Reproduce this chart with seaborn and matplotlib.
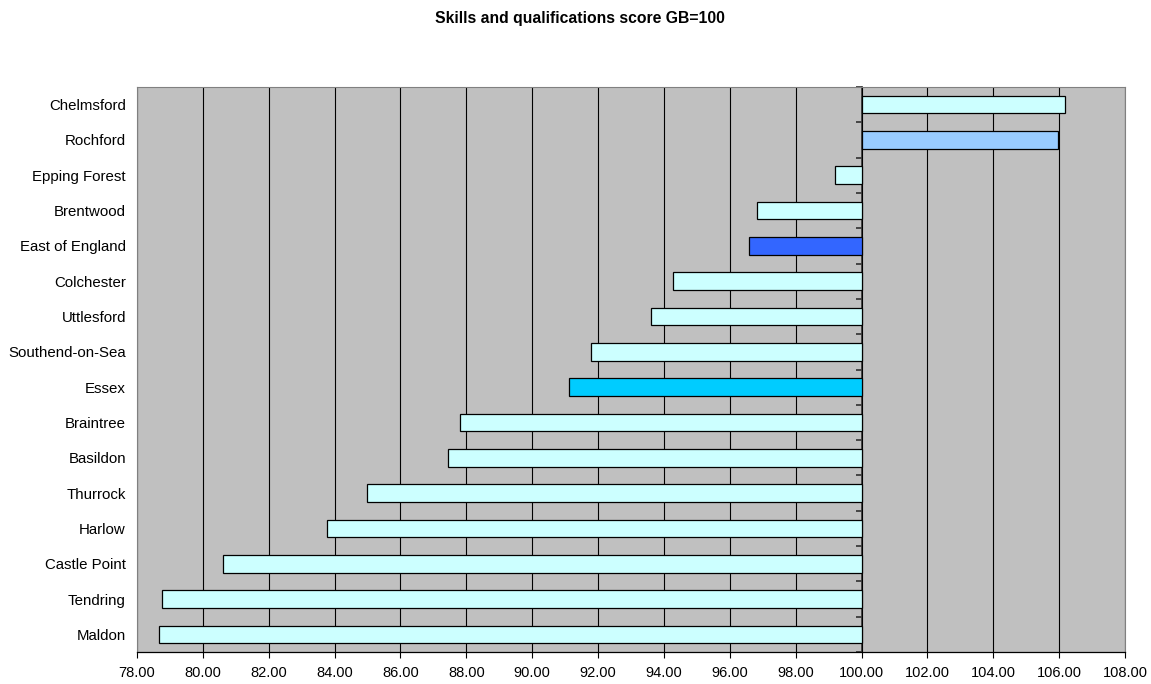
import matplotlib
matplotlib.use("Agg")
import matplotlib.pyplot as plt
import numpy as np
import pandas as pd
import seaborn as sns
from matplotlib.ticker import FormatStrFormatter

# Skills and qualifications index by area (GB = 100)
areas = [
    "Chelmsford", "Rochford", "Epping Forest", "Brentwood", "East of England",
    "Colchester", "Uttlesford", "Southend-on-Sea", "Essex", "Braintree",
    "Basildon", "Thurrock", "Harlow", "Castle Point", "Tendring", "Maldon",
]
scores = [
    106.18, 105.97, 99.20, 96.82, 96.57,
    94.29, 93.61, 91.78, 91.12, 87.82,
    87.45, 84.99, 83.78, 80.61, 78.77, 78.67,
]
x_ticks = [78, 80, 82, 84, 86, 88, 90, 92, 94, 96, 98, 100, 102, 104, 106, 108]
GB_INDEX = 100

highlight_colours = {"Rochford": "#99CCFF", "East of England": "#3366FF", "Essex": "#00CCFF"}
base_colour = "#CCFFFF"

sns.set_style("white")
plt.rcParams["font.family"] = ["Liberation Sans", "DejaVu Sans"]
plt.rcParams["text.color"] = "black"

df = pd.DataFrame({"area": areas, "score": scores})
df["gap"] = df["score"] - GB_INDEX
palette = {a: highlight_colours.get(a, base_colour) for a in areas}

W, H = 1151, 684
fig = plt.figure(figsize=(W / 100, H / 100), dpi=100)
ax = fig.add_axes([137 / W, 1 - 652 / H, 988 / W, 565 / H])

# bars run from the GB baseline to each area's score
sns.barplot(
    data=df, x="gap", y="area", hue="area", palette=palette, legend=False,
    orient="h", width=0.5, errorbar=None, left=GB_INDEX,
    edgecolor="black", linewidth=0.9, saturation=1, ax=ax,
)

ax.set_xlim(x_ticks[0], x_ticks[-1])
ax.set_xticks(x_ticks)
ax.xaxis.set_major_formatter(FormatStrFormatter("%.2f"))
ax.set_xlabel("")
ax.set_ylabel("")
ax.set_facecolor("#C0C0C0")
ax.grid(axis="x", color="black", linewidth=0.8)
ax.grid(axis="y", visible=False)
ax.set_axisbelow(True)

ax.tick_params(axis="x", bottom=True, direction="out", length=4, width=0.8,
               color="black", pad=6, labelsize=10.5, labelcolor="black")
ax.tick_params(axis="y", left=False, length=0, pad=8, labelsize=10.8, labelcolor="black")

for side in ["top", "right", "left"]:
    ax.spines[side].set_color("#808080")
    ax.spines[side].set_linewidth(0.8)
ax.spines["bottom"].set_color("black")
ax.spines["bottom"].set_linewidth(0.9)

# category axis crossing at the GB baseline, with ticks between categories
sec = ax.secondary_yaxis(GB_INDEX, transform=ax.transData)
sec.set_alignment("left")
sec.set_yticks(np.arange(len(areas) + 1) - 0.5)
sec.tick_params(axis="y", left=True, direction="out", length=4, width=1.2,
                color="#303030", labelleft=False)
sec.spines["left"].set_color("#404040")
sec.spines["left"].set_linewidth(1.3)

fig.text(0.504, 1 - 18 / H, "Skills and qualifications score GB=100",
         ha="center", va="center", fontsize=11.3, fontweight="bold", color="black")

fig.savefig("out.png", dpi=100)
